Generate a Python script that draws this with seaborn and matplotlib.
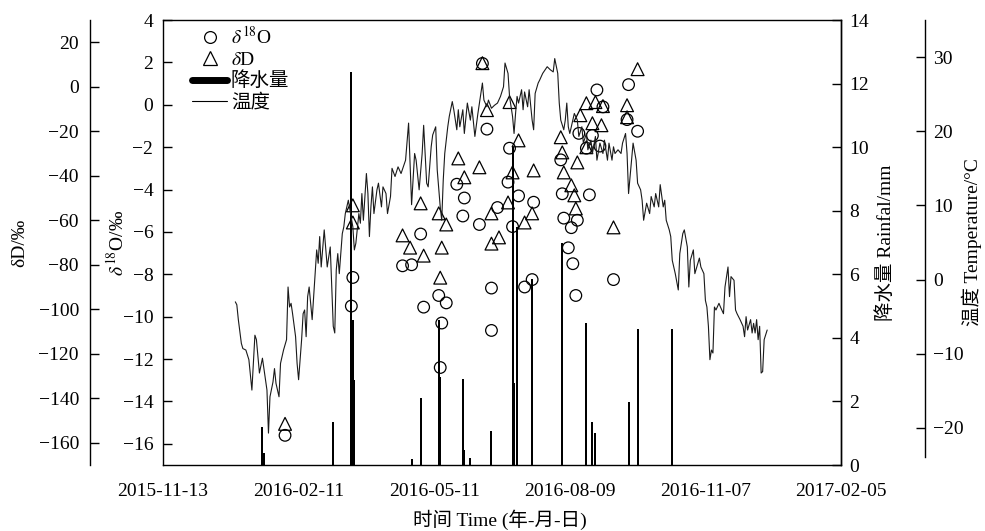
import pandas as pd
import matplotlib
matplotlib.use("Agg")
import matplotlib.pyplot as plt
from matplotlib.lines import Line2D
import seaborn as sns

# ---------------------------------------------------------------------------
# Data (days counted from 2015-11-13)
# ---------------------------------------------------------------------------
ORIGIN = pd.Timestamp("2015-11-13")

# delta-18O of precipitation samples (permil)
o18_day = [81, 125, 126, 159, 165, 171, 173, 183, 184, 185, 188, 195, 199, 200,
           210, 212, 215, 218, 218, 222, 229, 230, 232, 236, 240, 245, 246,
           264, 265, 266, 269, 271, 272, 274, 275, 276, 281, 283, 285, 288,
           290, 292, 299, 308, 309, 315]
o18_val = [-15.6, -9.5, -8.15, -7.6, -7.55, -6.1, -9.55, -9.0, -12.4, -10.3,
           -9.35, -3.75, -5.25, -4.4, -5.65, 1.95, -1.15, -8.65, -10.65, -4.85,
           -3.65, -2.05, -5.75, -4.3, -8.6, -8.25, -4.6, -2.6, -4.2, -5.35,
           -6.75, -5.8, -7.5, -9.0, -5.45, -1.35, -2.05, -4.25, -1.45, 0.7,
           -1.95, -0.1, -8.25, -0.7, 0.95, -1.25]

# delta-D of precipitation samples (permil)
dD_day = [81, 126, 126, 159, 164, 171, 173, 183, 184, 185, 188, 196, 200, 210,
          212, 215, 218, 218, 223, 229, 230, 232, 236, 240, 245, 246, 264, 265,
          266, 271, 273, 274, 275, 277, 281, 281, 285, 287, 291, 292, 299, 308,
          308, 315]
dD_val = [-151.5, -53.3, -61.0, -66.8, -72.3, -52.4, -75.9, -56.9, -85.8, -72.3,
          -61.9, -32.2, -40.7, -36.2, 10.6, -10.5, -56.9, -70.5, -67.7, -52.0,
          -6.9, -38.5, -24.1, -61.0, -56.9, -37.6, -22.7, -29.5, -38.5, -44.3,
          -48.8, -54.7, -34.0, -12.8, -7.4, -27.2, -16.4, -6.9, -17.3, -8.7,
          -63.2, -8.3, -13.7, 7.9]

# daily rainfall (mm)
rain_day = [66, 67, 113, 125, 126, 127, 165, 171, 183, 184, 199, 200, 204, 218,
            232, 233, 235, 245, 265, 281, 285, 287, 309, 315, 338]
rain_mm = [1.2, 0.38, 1.35, 12.36, 4.56, 2.68, 0.19, 2.1, 4.56, 2.77, 2.71, 0.47,
           0.22, 1.07, 10.0, 2.58, 7.49, 5.85, 6.99, 4.47, 1.35, 1.01, 1.98,
           4.28, 4.28]

# air temperature (deg C)
temp_day = [48, 49, 50, 52, 53, 55, 57, 59, 61, 62, 64, 66, 68, 69, 70, 71, 73,
            74, 75, 77, 78, 80, 81, 82, 83, 84, 85, 86, 88, 89, 90, 92, 93, 94,
            95, 96, 97, 99, 100, 102, 103, 104, 105, 107, 109, 111, 112, 113,
            114, 115, 116, 117, 119, 120, 121, 123, 126, 127, 128, 130, 131,
            132, 133, 135, 136, 137, 138, 139, 140, 142, 143, 145, 146, 148,
            149, 151, 152, 154,
            156, 158, 161, 163, 165, 167, 168, 170, 172, 173, 175, 176, 178,
            179, 181, 182, 184, 185, 186, 187, 189, 190, 192, 193, 195, 196,
            197, 199, 200, 202, 204, 205, 207, 209, 210, 212, 213, 215, 216,
            218, 220, 222, 224, 226, 227, 229, 230, 232, 233, 234, 235, 236,
            238, 239, 240, 242, 243, 245, 246, 247, 249, 250, 252, 255,
            257, 259, 260, 262, 263, 264, 266, 267, 268, 269, 270, 272, 273,
            275, 276, 278, 279, 281, 282, 284, 285, 287, 288, 290, 292, 293,
            295, 296, 298, 299, 300, 302, 304, 305, 307, 308, 309, 310, 311,
            312, 314, 315, 317, 318, 319, 321, 323, 324, 326, 327, 329, 330,
            332, 333, 334, 336, 337, 338, 340, 342, 343, 345, 346, 348, 349,
            350, 352, 353, 355,
            356, 357, 359, 360, 361, 362, 363, 364, 365, 366, 367, 369, 370,
            372, 373, 375, 376, 377, 379, 380, 381, 383, 385, 386, 387, 388,
            390, 391, 392, 393, 394, 395, 396, 397, 398, 399, 401]
temp_c = [-3.0, -3.4, -5.4, -8.6, -9.3, -9.5, -10.8, -14.9, -7.5, -8.1, -12.6,
          -10.6, -13.5, -14.9, -20.7, -15.8, -13.8, -12.0, -14.0, -15.8, -11.3,
          -9.5, -8.8, -8.1, -1.0, -3.7, -3.2, -4.6, -7.7, -11.3, -13.5, -8.1,
          -4.6, -4.1, -7.7, -2.3, -1.0, -5.4, -2.3, 4.0, 2.2, 5.8, 1.7, 6.7,
          1.7, 4.4, -1.0, -6.3, -7.2, 1.3, 3.5, 0.8, 6.2, 7.1, 8.9, 10.7, 7.1,
          4.0, 4.9, 8.9, 7.6, 11.6, 8.0, 14.3, 11.6, 5.8, 9.8, 12.5, 8.9, 12.1,
          13.0, 9.8, 12.5, 11.6, 8.9, 11.2, 15.0, 13.9,
          15.2, 14.3, 16.1, 21.1, 10.1, 17.0, 16.1, 12.1, 17.0, 20.8, 13.0,
          12.5, 17.9, 19.5, 20.6, 14.8, 9.8, 8.0, 13.4, 17.0, 20.6, 22.0, 24.0,
          22.9, 20.2, 22.9, 20.6, 22.9, 19.7, 23.8, 21.5, 23.3, 19.3, 22.4,
          23.8, 26.5, 24.2, 23.3, 24.2, 23.1, 23.5, 23.8, 24.7, 26.0, 29.2,
          27.8, 24.7, 22.0, 19.7, 22.4, 24.7, 23.8, 25.6, 22.9, 25.3, 23.3,
          25.6, 21.5, 20.2, 25.1, 26.5, 26.9, 27.8, 28.7,
          28.3, 28.0, 29.8, 27.8, 23.8, 21.5, 20.2, 21.5, 23.8, 20.6, 19.7,
          21.5, 22.4, 21.5, 19.3, 20.6, 18.4, 19.7, 17.5, 18.8, 17.0, 19.3,
          16.1, 18.4, 17.0, 18.8, 16.1, 18.4, 16.1, 17.9, 17.0, 17.5, 17.0,
          18.4, 19.7, 17.0, 11.6, 13.9, 16.1, 18.4, 16.1, 13.0, 12.1, 10.7,
          8.0, 10.3, 8.9, 11.2, 9.8, 11.6, 9.8, 12.8, 9.8, 10.7, 8.0, 6.7, 5.8,
          2.6, 0.8, -1.4, 3.5, 6.2, 6.7, 4.4, -1.0, 2.6, 4.0, 0.8, 2.2,
          2.9, 1.7, 0.8, -2.8, -3.7, -6.3, -10.8, -9.5, -9.9, -3.7, -4.1, -3.2,
          -3.7, -4.6, -1.0, 1.7, -2.3, 0.4, -0.1, -4.1, -4.6, -5.4, -6.3, -7.7,
          -5.0, -6.8, -5.4, -7.2, -5.9, -7.2, -5.4, -8.1, -6.3, -12.6, -12.4,
          -8.1, -6.8]

x_tick_days = [0, 90, 180, 270, 360, 450]


def to_dates(days):
    return ORIGIN + pd.to_timedelta(days, unit="D")


# ---------------------------------------------------------------------------
# Style
# ---------------------------------------------------------------------------
sns.set_theme(style="ticks")
plt.rcParams["font.family"] = ["Liberation Serif", "Noto Sans CJK SC"]
plt.rcParams["mathtext.fontset"] = "stix"
for key in ["axes.edgecolor", "xtick.color", "ytick.color", "text.color",
            "axes.labelcolor"]:
    plt.rcParams[key] = "black"
plt.rcParams["axes.linewidth"] = 1.0

FS = 14
W, H = 985, 531
L, R, T, B = 163, 841, 20, 465

fig = plt.figure(figsize=(W / 100, H / 100), dpi=100)
ax = fig.add_axes([L / W, (H - B) / H, (R - L) / W, (B - T) / H])
ax_d = ax.twinx()
ax_rain = ax.twinx()
ax_temp = ax.twinx()

# ---------------------------------------------------------------------------
# Marks
# ---------------------------------------------------------------------------
sns.scatterplot(x=to_dates(o18_day), y=o18_val, ax=ax, marker="o", s=70,
                linewidth=0.9, zorder=3)
ax.collections[-1].set_facecolor("none")
ax.collections[-1].set_edgecolor("black")

sns.scatterplot(x=to_dates(dD_day), y=dD_val, ax=ax_d, marker="^", s=85,
                linewidth=0.9, zorder=3)
ax_d.collections[-1].set_facecolor("none")
ax_d.collections[-1].set_edgecolor("black")

ax_rain.bar(to_dates(rain_day), rain_mm, width=1.3, color="black",
            linewidth=0)

sns.lineplot(x=to_dates(temp_day), y=temp_c, ax=ax_temp, color="#1a1a1a",
             linewidth=0.8)

# ---------------------------------------------------------------------------
# Axes
# ---------------------------------------------------------------------------
xt = to_dates(x_tick_days)
ax.set_xlim(xt[0], xt[-1])
ax.set_xticks(xt)
ax.set_xticklabels([d.strftime("%Y-%m-%d") for d in xt])
ax.tick_params(axis="x", length=0, pad=13, labelsize=FS)
ax.set_xlabel("时间 Time (年-月-日)", fontsize=FS)
ax.xaxis.set_label_coords((500 - L) / (R - L), -0.1)

tick_kw = dict(direction="in", length=6.5, width=1.0, labelsize=FS)

ax.set_ylim(-17, 4)
ax.set_yticks(range(-16, 5, 2))
ax.tick_params(axis="y", left=True, right=False, pad=7, **tick_kw)
ax.set_ylabel(r"$\delta^{18}$O/‰", fontsize=FS)
ax.yaxis.set_label_coords((128 - L) / (R - L), 0.5)
for s in ["top", "bottom", "left", "right"]:
    ax.spines[s].set_visible(True)
    ax.spines[s].set_linewidth(1.0)

# delta-D axis on an offset left spine
for s in ["top", "bottom", "right"]:
    ax_d.spines[s].set_visible(False)
ax_d.spines["left"].set_visible(True)
ax_d.spines["left"].set_position(("axes", (90 - L) / (R - L)))
ax_d.yaxis.set_ticks_position("left")
ax_d.yaxis.set_label_position("left")
ax_d.set_ylim(-170, 30)
ax_d.set_yticks(range(-160, 21, 20))
ax_d.tick_params(axis="y", pad=8, **tick_kw)
ax_d.set_ylabel("δD/‰", fontsize=FS)
ax_d.yaxis.set_label_coords((28 - L) / (R - L), 0.5)

# rainfall on the right frame edge
for s in ["top", "bottom", "left"]:
    ax_rain.spines[s].set_visible(False)
ax_rain.set_ylim(0, 14)
ax_rain.set_yticks(range(0, 15, 2))
ax_rain.tick_params(axis="y", pad=6, **tick_kw)
ax_rain.set_ylabel("降水量 Rainfal/mm", fontsize=FS)
ax_rain.yaxis.set_label_coords((876 - L) / (R - L), 0.5)

# temperature on an offset right spine
for s in ["top", "bottom", "left"]:
    ax_temp.spines[s].set_visible(False)
ax_temp.spines["right"].set_position(("axes", (925 - L) / (R - L)))
ax_temp.set_ylim(-25, 35)
ax_temp.spines["right"].set_bounds(-23.9, 35)
ax_temp.set_yticks(range(-20, 31, 10))
ax_temp.tick_params(axis="y", pad=6, **tick_kw)
ax_temp.set_ylabel("温度 Temperature/°C", fontsize=FS)
ax_temp.yaxis.set_label_coords((962 - L) / (R - L), 0.5)

# ---------------------------------------------------------------------------
# Legend
# ---------------------------------------------------------------------------
handles = [
    Line2D([], [], marker="o", ls="none", mfc="none", mec="black", ms=8.5,
           mew=0.9),
    Line2D([], [], marker="^", ls="none", mfc="none", mec="black", ms=9.5,
           mew=0.9),
    Line2D([], [], color="black", lw=5),
    Line2D([], [], color="black", lw=0.8),
]
labels = [r"$\delta^{18}$O", r"$\delta$D", "降水量", "温度"]
ax_temp.legend(handles, labels, loc="upper left",
               bbox_to_anchor=((192 - L) / (R - L), 1 - 6 / (B - T)),
               frameon=False, fontsize=FS, handlelength=1.8,
               handletextpad=0.2, labelspacing=0.16, borderaxespad=0,
               borderpad=0)

fig.savefig("out.png", dpi=100)
